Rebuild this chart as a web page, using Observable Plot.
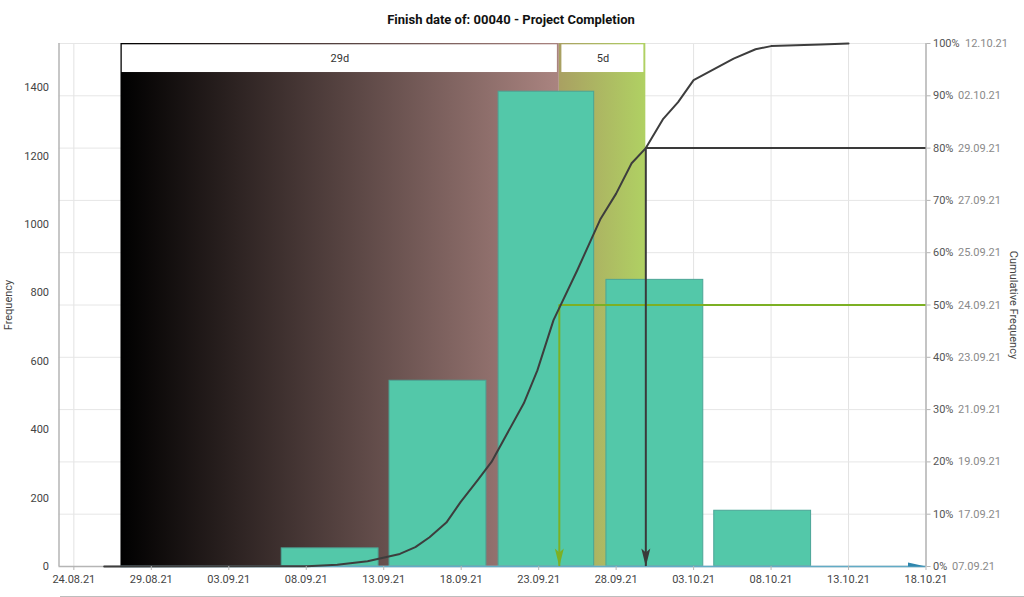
<!DOCTYPE html>
<html>
<head>
<meta charset="utf-8">
<script src="https://cdn.jsdelivr.net/npm/d3@7"></script>
<script src="https://cdn.jsdelivr.net/npm/@observablehq/plot@0.6"></script>
<style>
html,body{margin:0;padding:0;background:#fff;overflow:hidden}
#wrap{position:relative;width:1024px;height:597px}
#title{height:30px;box-sizing:border-box;padding-top:13px;text-align:center;font:bold 13px/14px Roboto,sans-serif;color:#111;padding-right:2px}
#foot{position:absolute;left:60px;right:0;top:595.5px;border-top:1.5px solid #bdbdbd}
svg{display:block}
</style>
</head>
<body>
<div id="wrap">
<div id="title">Finish date of: 00040 - Project Completion</div>
<div id="chart"></div>
<div id="foot"></div>
</div>
<script>
const T = s => new Date(s + ":00Z");

// histogram
const barStart = ["2021-09-06T10:00","2021-09-13T09:00","2021-09-20T10:00","2021-09-27T09:00","2021-10-04T08:00"];
const barEnd   = ["2021-09-12T16:00","2021-09-19T15:00","2021-09-26T14:00","2021-10-03T15:00","2021-10-10T14:00"];
const barFreq  = [53, 543, 1388, 838, 163];

// cumulative curve
const curveDates = ["2021-08-25T23:00","2021-09-08T01:00","2021-09-10T00:00","2021-09-11T23:00","2021-09-14T01:00","2021-09-15T01:00","2021-09-15T23:00","2021-09-17T01:00","2021-09-17T23:00","2021-09-19T01:00","2021-09-19T23:00","2021-09-22T01:00","2021-09-22T22:00","2021-09-23T23:00","2021-09-25T12:00","2021-09-27T00:00","2021-09-28T00:00","2021-09-29T00:00","2021-09-29T22:00","2021-10-01T01:00","2021-10-02T00:00","2021-10-03T00:00","2021-10-05T14:00","2021-10-07T00:00","2021-10-08T00:00","2021-10-11T05:00","2021-10-13T00:00"];
const curvePct = [0,0.06,0.32,1.0,2.4,3.7,5.6,8.4,12.3,16.4,20.0,31.2,37.5,47.1,56.7,66.5,71.3,77.1,80,85.6,88.8,93.0,97.1,98.9,99.5,99.8,100];

// axes
const xTicks = ["2021-08-24","2021-08-29","2021-09-03","2021-09-08","2021-09-13","2021-09-18","2021-09-23","2021-09-28","2021-10-03","2021-10-08","2021-10-13","2021-10-18"].map(d => T(d + "T00:00"));
const freqTicks = [0,200,400,600,800,1000,1200,1400];
const pctTicks = [0,10,20,30,40,50,60,70,80,90,100];
const pctDates = ["07.09.21","17.09.21","19.09.21","21.09.21","23.09.21","24.09.21","25.09.21","27.09.21","29.09.21","02.10.21","12.10.21"];
const xStart = T("2021-08-23T01:00"), xEnd = T("2021-10-18T00:00");
const freqMax = 1529;

// duration bands
const bandStart = ["2021-08-27T01:00","2021-09-24T08:00"];
const bandEnd   = ["2021-09-24T08:00","2021-09-29T22:00"];
const bandFill  = ["url(#bandA)","url(#bandB)"];
const boxStart  = ["2021-08-27T03:00","2021-09-24T12:00"];
const boxEnd    = ["2021-09-24T05:00","2021-09-29T19:00"];
const boxLabels = ["29d","5d"];
const boxBottom = 94.45, boxTop = 99.75;

// percentile markers
const markerDates = ["2021-09-24T08:00","2021-09-29T22:00"];
const markerPct = [50,80];
const markerColors = ["#7cb024","#3a3a3a"];

// baseline
const baseStart = T("2021-08-27T01:00");
const curveRows = curveDates.map((d,i) => ({x:T(d), y:curvePct[i]}));
const bars = barFreq.map((f,i) => ({x1:T(barStart[i]), x2:T(barEnd[i]), y:f/freqMax*100}));
const bands = bandFill.map((f,i) => ({x1:T(bandStart[i]), x2:T(bandEnd[i]), fill:f}));
const boxes = boxLabels.map((l,i) => ({x1:T(boxStart[i]), x2:T(boxEnd[i]), label:l}));
const markers = markerPct.map((p,i) => ({x:T(markerDates[i]), y:p, color:markerColors[i]}));
const dateRows = pctTicks.map((p,i) => ({p, label:pctDates[i]}));

const gradient = (id, a, b) => `<linearGradient id="${id}"><stop offset="0" stop-color="${a}"/><stop offset="1" stop-color="${b}"/></linearGradient>`;
const defsMark = () => {
  const g = d3.create("svg:g");
  g.append("defs").html(gradient("bandA","#000000","#aa8480") + gradient("bandB","#a9a062","#b0d163"));
  return g.node();
};
const arrowDown = {draw(c){c.moveTo(0,0);c.lineTo(-4.5,-18);c.lineTo(0,-14);c.lineTo(4.5,-18);c.closePath();}};
const wedge = {draw(c){c.moveTo(0,0);c.lineTo(-18,-4);c.lineTo(-18,0);c.closePath();}};

const axisGrey = "#b5b5b5";
const dateMark = (rows, dx) => Plot.text(rows,{x:xEnd,y:"p",text:"label",textAnchor:"start",dx,fill:"#8a8a8a"});
const plot = Plot.plot({
  width:1024, height:567,
  marginTop:13, marginBottom:31, marginLeft:58.5, marginRight:98.5,
  style:{fontFamily:"Roboto, sans-serif", fontSize:"11px", background:"transparent", overflow:"visible"},
  x:{type:"utc", domain:[xStart,xEnd]},
  y:{domain:[0,100]},
  marks:[
    defsMark,
    Plot.ruleX(xTicks,{stroke:"#e3e3e3",strokeWidth:1}),
    Plot.ruleY(pctTicks,{stroke:"#e6e6e6",strokeWidth:1}),
    Plot.rect(bands,{x1:"x1",x2:"x2",y1:0,y2:100,fill:"fill"}),
    Plot.rect(boxes,{x1:"x1",x2:"x2",y1:boxBottom,y2:boxTop,fill:"#fff"}),
    Plot.text(boxes,{x:d=>new Date((+d.x1 + +d.x2)/2),y:(boxBottom+boxTop)/2,text:"label",fill:"#333"}),
    Plot.rect(bars,{x1:"x1",x2:"x2",y1:0,y2:"y",fill:"#53c8a9",stroke:"#4ba596",strokeWidth:1}),
    Plot.ruleX([xStart,xEnd],{stroke:axisGrey,strokeWidth:1.5}),
    Plot.ruleY([0],{stroke:axisGrey,strokeWidth:1.5}),
    Plot.ruleY([0],{x1:baseStart,x2:xEnd,stroke:"#62abc6",strokeWidth:1.5}),
    Plot.ruleY(markers,{x1:"x",x2:xEnd,y:"y",stroke:"color",strokeWidth:2}),
    Plot.ruleX(markers,{x:"x",y1:0,y2:"y",stroke:"color",strokeWidth:2}),
    Plot.line(curveRows,{x:"x",y:"y",stroke:"#3d3d3d",strokeWidth:2}),
    Plot.vector(markers,{x:"x",y:0,anchor:"start",shape:arrowDown,fill:"color",stroke:"none"}),
    Plot.vector([xEnd],{x:d=>d,y:0,anchor:"start",shape:wedge,fill:"#2f86ad",stroke:"none"}),
    Plot.axisX(xTicks,{anchor:"bottom",tickSize:4,tickPadding:5,tickFormat:d3.utcFormat("%d.%m.%y"),stroke:axisGrey,fill:"#444",label:null}),
    Plot.axisY(pctTicks,{anchor:"right",tickSize:4,tickPadding:3,tickFormat:d=>d+"%",stroke:axisGrey,fill:"#555",label:null}),
    Plot.text(freqTicks,{x:xStart,y:d=>d/freqMax*100,text:d=>String(d),textAnchor:"end",dx:-10,fill:"#444"}),
    dateMark(dateRows.filter(d=>d.p===0),26),
    dateMark(dateRows.filter(d=>d.p>0&&d.p<100),32),
    dateMark(dateRows.filter(d=>d.p===100),39),
    Plot.text(["Frequency"],{x:xStart,y:50,dx:-51,rotate:-90,fill:"#444"}),
    Plot.text(["Cumulative Frequency"],{x:xEnd,y:50,dx:88,rotate:90,fill:"#444"})
  ]
});
document.getElementById("chart").appendChild(plot);
</script>
</body>
</html>
